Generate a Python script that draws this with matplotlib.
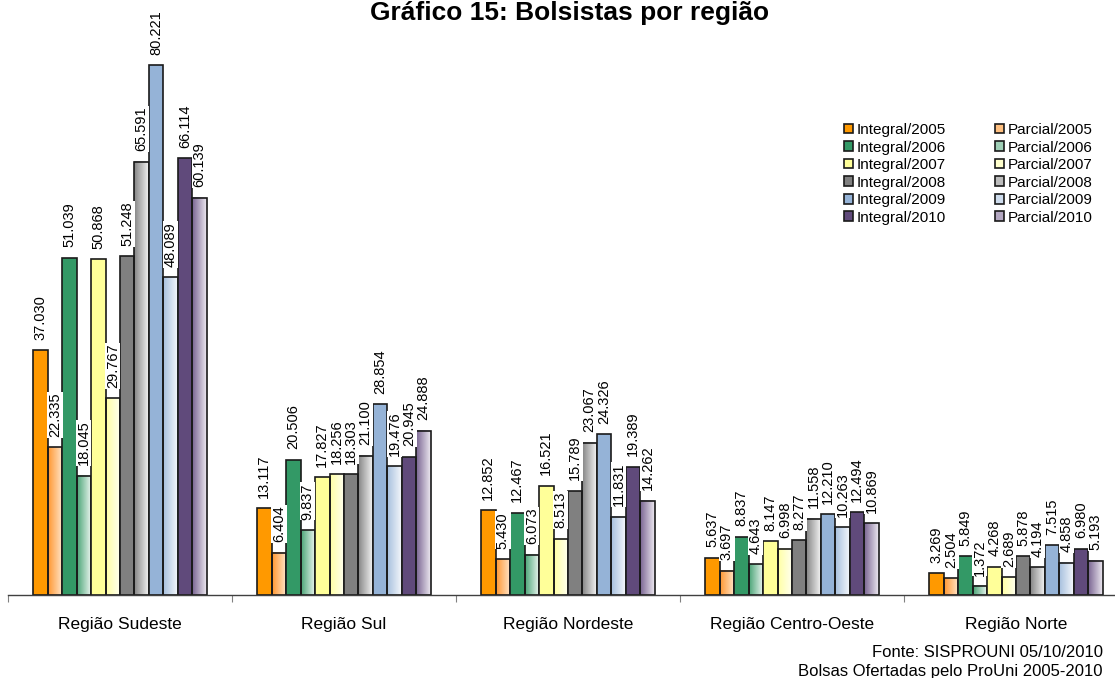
import numpy as np
import matplotlib.pyplot as plt
from matplotlib.patches import Patch
from matplotlib.colors import to_rgb

plt.rcParams['font.family'] = ['Liberation Sans', 'DejaVu Sans']

# Dados (bolsistas por região, integral/parcial 2005-2010)
regioes = ["Região Sudeste", "Região Sul", "Região Nordeste",
           "Região Centro-Oeste", "Região Norte"]
series = ["Integral/2005", "Parcial/2005", "Integral/2006", "Parcial/2006",
          "Integral/2007", "Parcial/2007", "Integral/2008", "Parcial/2008",
          "Integral/2009", "Parcial/2009", "Integral/2010", "Parcial/2010"]

sudeste = [37030, 22335, 51039, 18045, 50868, 29767, 51248, 65591, 80221, 48089, 66114, 60139]
sul = [13117, 6404, 20506, 9837, 17827, 18256, 18303, 21100, 28854, 19476, 20945, 24888]
nordeste = [12852, 5430, 12467, 6073, 16521, 8513, 15789, 23067, 24326, 11831, 19389, 14262]
centro_oeste = [5637, 3697, 8837, 4643, 8147, 6998, 8277, 11558, 12210, 10263, 12494, 10869]
norte = [3269, 2504, 5849, 1372, 4268, 2689, 5878, 4194, 7515, 4858, 6980, 5193]

valores = np.array([sudeste, sul, nordeste, centro_oeste, norte])

# cores: integral liso, parcial em degradê (esquerda -> direita)
cores_integral = ["#FF9900", "#339966", "#FFFF99", "#808080", "#95B3D7", "#604A7B"]
degrade_parcial = [("#FF9933", "#FFE6CC"), ("#4DA679", "#F0F8F3"), ("#FFFFA6", "#FFFFF2"),
                   ("#858585", "#F2F2F2"), ("#A7C0DE", "#F4F7FB"), ("#7A6592", "#ECE8F0")]


def fmt(v):
    return f"{v:,}".replace(",", ".")


fig = plt.figure(figsize=(11.15, 6.78), dpi=100)
ax = fig.add_axes([8/1115, 83/678, 1107/1115, 595/678])

n = len(series)
w = 0.0647
x = np.arange(len(regioes))
borda = "#1a1a1a"

handles = []
for j in range(n):
    pos = x + (j - (n - 1) / 2) * w
    h = valores[:, j]
    k = j // 2
    if j % 2 == 0:
        ax.bar(pos, h, width=w, color=cores_integral[k], edgecolor=borda, linewidth=1.2, zorder=2)
        handles.append(Patch(facecolor=cores_integral[k], edgecolor=borda, linewidth=1.2))
    else:
        c0, c1 = np.array(to_rgb(degrade_parcial[k][0])), np.array(to_rgb(degrade_parcial[k][1]))
        t = np.linspace(0, 1, 32)[None, :, None]
        grad = c0 * (1 - t) + c1 * t
        for p, hv in zip(pos, h):
            ax.imshow(grad, extent=[p - w/2, p + w/2, 0, hv], aspect='auto', zorder=1,
                      interpolation='bilinear')
        ax.bar(pos, h, width=w, facecolor='none', edgecolor=borda, linewidth=1.2, zorder=2)
        handles.append(Patch(facecolor=(c0 + c1) / 2, edgecolor=borda, linewidth=1.2))
    for p, hv in zip(pos, h):
        ax.annotate(fmt(hv), (p, hv), xytext=(0, 7.5), textcoords='offset points',
                    rotation=90, ha='center', va='bottom', fontsize=10.5, zorder=3,
                    bbox=dict(boxstyle='square,pad=0.05', fc='white', ec='none'))

for s in ['top', 'right', 'left']:
    ax.spines[s].set_visible(False)
ax.spines['bottom'].set_color('#404040')
ax.spines['bottom'].set_linewidth(1.0)
ax.set_yticks([])
ax.set_xticks(np.arange(-0.5, 5, 1.0))
ax.set_xticklabels([])
ax.tick_params(axis='x', which='major', length=5, color='#808080', direction='out')
ax.set_xticks(x, minor=True)
ax.set_xticklabels(regioes, minor=True, fontsize=12.5)
ax.tick_params(axis='x', which='minor', length=0, pad=16)

# limites depois dos ticks (set_xticks expande a vista)
ax.set_xlim(-0.5, -0.5 + 1107/224)
ax.set_ylim(0, 90058)
ax.set_aspect('auto')

# legenda: coluna integral e coluna parcial
ordem = list(range(0, n, 2)) + list(range(1, n, 2))
ax.legend([handles[i] for i in ordem], [series[i] for i in ordem], ncol=2,
          loc='upper left', bbox_to_anchor=(844/1115, 1 - 123/678), bbox_transform=fig.transFigure,
          frameon=False, borderpad=0, borderaxespad=0, handlelength=0.6, handleheight=0.6,
          handletextpad=0.25, labelspacing=0.23, columnspacing=3.2, fontsize=11)

fig.text(570/1115, 1 - 20/678, "Gráfico 15: Bolsistas por região", ha='center', va='baseline',
         fontsize=19, fontweight='bold')
fig.text(1103/1115, 1 - 657/678, "Fonte: SISPROUNI 05/10/2010", ha='right', va='baseline', fontsize=12)
fig.text(1103/1115, 1 - 676/678, "Bolsas Ofertadas pelo ProUni 2005-2010", ha='right', va='baseline', fontsize=12)

fig.savefig("out.png", dpi=100)
